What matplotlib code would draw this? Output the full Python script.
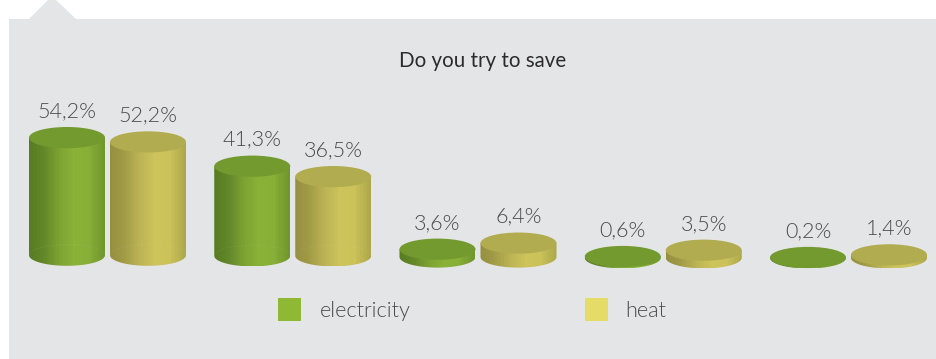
import numpy as np
import matplotlib
matplotlib.use('Agg')
import matplotlib.pyplot as plt
from matplotlib import font_manager as fm
from matplotlib.colors import LinearSegmentedColormap
from matplotlib.patches import Ellipse, Polygon, Rectangle
from matplotlib.path import Path
from matplotlib.patches import PathPatch

plt.rcParams['font.family'] = ['Lato', 'DejaVu Sans']

title = 'Do you try to save'
series_names = ['electricity', 'heat']
electricity = [54.2, 41.3, 3.6, 0.6, 0.2]
heat = [52.2, 36.5, 6.4, 3.5, 1.4]

W, H = 937, 359
PX_PER_PCT = 2.17
BASE_PX = 255.2
GROUP0_PX = 107.5
GROUP_STEP = 185.25
BAR_OFFSET = 40.5
BAR_W = 76
RY = 10.6
# the baseline sags a little to the right in the original
base_drop = [0, 0.6, 1.8, 2.6, 2.7]

body_colors = {
    'electricity': ['#587c22', '#64892a', '#7ea333', '#8ab238', '#88af37', '#6f972c'],
    'heat': ['#958f40', '#a49e48', '#bdb555', '#cdc45b', '#cbc25a', '#aea84c'],
}
top_colors = {'electricity': '#739a2e', 'heat': '#b2ac50'}
legend_colors = {'electricity': '#8fb935', 'heat': '#e5dc68'}

# weight='light' lands on the hairline cut, so take the Light file by name
light_files = [f.fname for f in fm.fontManager.ttflist if f.fname.endswith('Lato-Light.ttf')]
if light_files:
    light = fm.FontProperties(fname=light_files[0])
else:
    light = fm.FontProperties(family='Lato')

fig = plt.figure(figsize=(W / 100, H / 100), dpi=100, facecolor='white')


def fx(px):
    return px / W


def fy(py):
    return 1 - py / H


# panel with the little tab on top
fig.add_artist(Polygon([(fx(9), fy(19)), (fx(29), fy(19)), (fx(48), fy(0)), (fx(56), fy(0)),
                        (fx(76), fy(19)), (fx(937), fy(19)), (fx(937), fy(359)), (fx(9), fy(359))],
                       closed=True, transform=fig.transFigure, fc='#e4e5e7', ec='none', zorder=-5))

ax = fig.add_axes([0, 0, 1, 1])
ax.patch.set_alpha(0)
ax.axis('off')
xlim = (-GROUP0_PX / GROUP_STEP, (W - GROUP0_PX) / GROUP_STEP)
ylim = ((BASE_PX - H) / PX_PER_PCT, BASE_PX / PX_PER_PCT)

half_w = BAR_W / 2 / GROUP_STEP
ry = RY / PX_PER_PCT
side = BAR_OFFSET / GROUP_STEP


def cylinder(x, base, value, name):
    top = base + value
    cmap = LinearSegmentedColormap.from_list(name, body_colors[name])
    t = np.linspace(0, np.pi, 60)
    verts = [(x - half_w, top)]
    verts += [(x - half_w * np.cos(a), base - ry * np.sin(a)) for a in t]
    verts += [(x + half_w, top), (x - half_w, top)]
    clip = PathPatch(Path(verts), transform=ax.transData, fc='none', ec='none')
    ax.add_patch(clip)
    # stepped gradient gives the vertical banding of the original
    grad = np.linspace(0, 1, 36).reshape(1, -1)
    im = ax.imshow(grad, cmap=cmap, aspect='auto', interpolation='nearest',
                   extent=(x - half_w, x + half_w, base - ry, top), zorder=2)
    im.set_clip_path(clip)
    if value > 5:
        # see-through back edge of the bottom disc
        t2 = np.linspace(0, np.pi, 40)
        ax.plot(x - half_w * np.cos(t2), base + ry * np.sin(t2), color='white', alpha=0.03, lw=1, zorder=3)
    ax.add_patch(Ellipse((x, top), 2 * half_w, 2 * ry, fc=top_colors[name], ec='none', zorder=4))
    ax.annotate(f'{value:.1f}%'.replace('.', ','), (x, top), xytext=(0, 19), textcoords='offset points',
                ha='center', va='center', fontproperties=light, fontsize=15.5, color='#4a4a4c', zorder=5)


for i in range(len(electricity)):
    base = -base_drop[i] / PX_PER_PCT
    cylinder(i - side, base, electricity[i], 'electricity')
    cylinder(i + side, base, heat[i], 'heat')

ax.set_xlim(xlim)
ax.set_ylim(ylim)

fig.text(fx(483), fy(61), title, ha='center', va='center', fontsize=14.8, color='#2b2b2d')

for name, x0, tx in zip(series_names, [278, 585], [320, 625]):
    fig.add_artist(Rectangle((fx(x0), fy(321)), 23 / W, 23 / H, transform=fig.transFigure,
                             fc=legend_colors[name], ec='none'))
    fig.text(fx(tx), fy(311), name, ha='left', va='center', fontproperties=light, fontsize=15.7,
             color='#4a4a4c')

fig.savefig('out.png', dpi=100)
